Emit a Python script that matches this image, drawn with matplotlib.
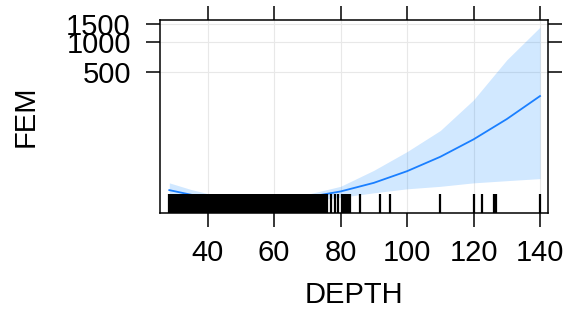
import matplotlib
matplotlib.use("Agg")
import matplotlib.pyplot as plt
import matplotlib.transforms as mtransforms
from matplotlib.ticker import FixedLocator, NullLocator, FixedFormatter

plt.rcParams['font.family'] = ['Liberation Sans', 'DejaVu Sans']

# fitted effect of DEPTH on FEM, with confidence band
depth = [28.5, 35, 40, 50, 60, 70, 80, 90, 100, 110, 120, 130, 140]
fem_fit = [33, 29.7, 28, 26.3, 26.3, 28, 32, 39, 51, 71, 106, 169, 287]
fem_lower = [28, 27, 26, 24.5, 24.5, 25.5, 28, 31, 34, 36, 39, 41, 43]
fem_upper = [39, 33.5, 30.5, 28, 28, 30, 36, 52, 80, 130, 263, 660, 1400]

# observed depths for the rug
rug_depths = [28.4, 29, 29.5, 30, 30.5, 31, 31.5, 32, 32.5, 33, 33.5, 34, 34.5,
              35, 35.5, 36, 36.5, 37, 37.5, 38, 38.5, 39, 39.5, 40, 40.5, 41,
              41.5, 42, 42.5, 43, 43.5, 44, 44.5, 45, 45.5, 46, 46.5, 47, 47.5,
              48, 48.5, 49, 49.5, 50, 50.5, 51, 51.5, 52, 52.5, 53, 53.5, 54,
              54.5, 55, 55.5, 56, 56.5, 57, 57.5, 58, 58.5, 59, 59.5, 60, 60.5,
              61, 61.5, 62, 62.5, 63, 63.5, 64, 64.5, 65, 65.5, 66, 66.5, 67,
              67.5, 68, 68.5, 69, 69.5, 70, 70.5, 71, 71.5, 72, 72.5, 73, 73.5,
              74, 74.5, 75, 75.5, 76, 77.2, 78.4, 79.3, 80.4, 81, 81.6, 82.2,
              82.8, 86, 92, 95, 109.9, 120.2, 122.4, 126.1, 126.9, 139.9]

x_ticks = [40, 60, 80, 100, 120, 140]
y_ticks = [500, 1000, 1500]

fig = plt.figure(figsize=(5.67, 3.22), dpi=100)
ax = fig.add_axes([160 / 567, 109 / 322, 388 / 567, 193 / 322])

ax.set_yscale('log')
ax.set_xlim(25.7, 142.4)
ax.set_ylim(19.5, 1650)

for xv in x_ticks:
    ax.axvline(xv, color='#e8e8e8', lw=0.8, zorder=0)
for yv in y_ticks:
    ax.axhline(yv, color='#e8e8e8', lw=0.8, zorder=0)

ax.fill_between(depth, fem_lower, fem_upper, color='#0080ff', alpha=0.18,
                lw=0, zorder=1)
ax.plot(depth, fem_fit, color='#1a7fff', lw=1.3, zorder=2)

trans = mtransforms.blended_transform_factory(ax.transData, ax.transAxes)
ax.vlines(rug_depths, 0, 0.1, transform=trans, color='black', lw=1.6, zorder=3)

ax.xaxis.set_major_locator(FixedLocator(x_ticks))
ax.xaxis.set_minor_locator(NullLocator())
ax.yaxis.set_major_locator(FixedLocator(y_ticks))
ax.yaxis.set_major_formatter(FixedFormatter([str(v) for v in y_ticks]))
ax.yaxis.set_minor_locator(NullLocator())

ax.tick_params(direction='out', length=10, width=1.1, labelsize=21,
               top=True, right=True, labeltop=False, labelright=False)
ax.tick_params(axis='x', pad=9)
ax.tick_params(axis='y', pad=11)
for sp in ax.spines.values():
    sp.set_linewidth(1.1)

ax.set_xlabel('DEPTH', fontsize=21, labelpad=10)
ax.set_ylabel('FEM', fontsize=21)
ax.yaxis.set_label_coords(-0.31, 0.5)

fig.savefig('out.png', dpi=100)
